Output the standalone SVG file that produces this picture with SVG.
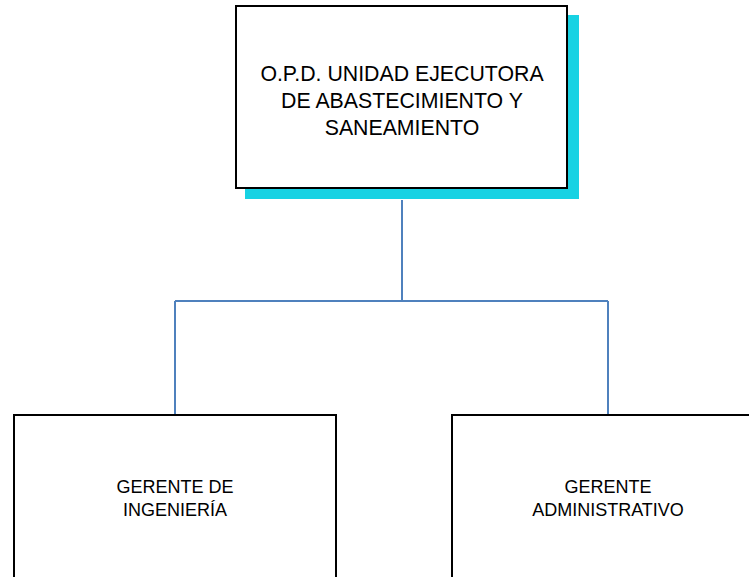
<svg xmlns="http://www.w3.org/2000/svg" width="749" height="577" viewBox="0 0 749 577">
<style>
.box{fill:#ffffff;stroke:#000000;stroke-width:2}
.conn{fill:none;stroke:#4F81BD;stroke-width:2}
.t1{font-family:"Liberation Sans",Arial,sans-serif;font-size:21.3px;fill:#000;text-anchor:middle}
.t2{font-family:"Liberation Sans",Arial,sans-serif;font-size:18px;fill:#000;text-anchor:middle}
</style>
<rect width="749" height="577" fill="#ffffff"/>
<g id="connectors">
<path class="conn" d="M402 200 V301 M175 301 H608 M175 301 V415 M608 301 V415"/>
</g>
<g id="node-opd">
<rect x="245" y="15" width="334" height="184" fill="#17D2E3"/>
<rect class="box" x="236" y="6" width="331" height="182"/>
<text class="t1" x="402" y="81">O.P.D. UNIDAD EJECUTORA</text>
<text class="t1" x="402" y="108">DE ABASTECIMIENTO Y</text>
<text class="t1" x="402" y="135">SANEAMIENTO</text>
</g>
<g id="node-ingenieria">
<rect class="box" x="14" y="415" width="322" height="172"/>
<text class="t2" x="175" y="493">GERENTE DE</text>
<text class="t2" x="175" y="516">INGENIERÍA</text>
</g>
<g id="node-administrativo">
<rect class="box" x="452" y="415" width="320" height="172"/>
<text class="t2" x="608" y="493">GERENTE</text>
<text class="t2" x="608" y="516">ADMINISTRATIVO</text>
</g>
</svg>
